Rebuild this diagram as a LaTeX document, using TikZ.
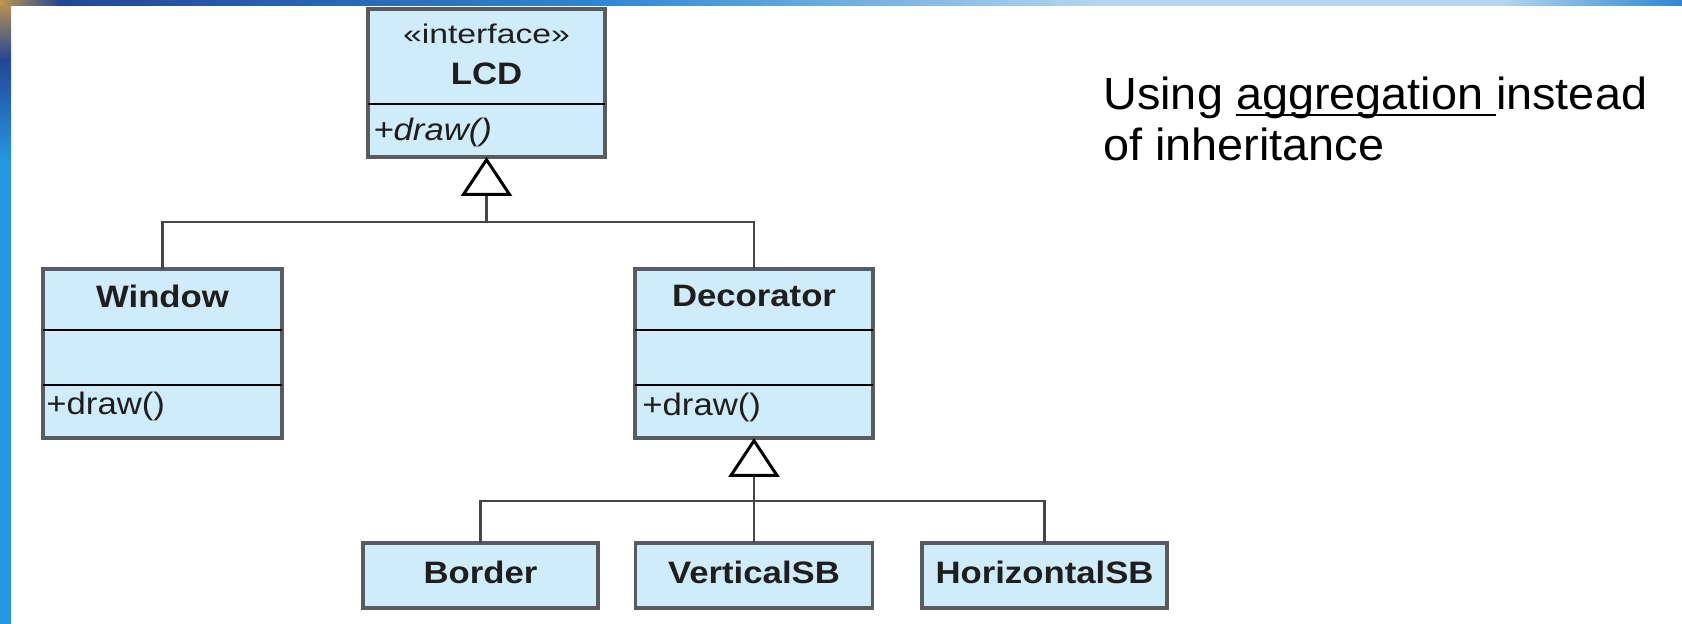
\documentclass[tikz,border=0pt]{standalone}
\usepackage{fontspec}
\setmainfont{Liberation Sans}
\newfontfamily\boxfont[FakeStretch=1.12]{Liberation Sans}
\newfontfamily\stereofont[FakeStretch=1.25]{Liberation Sans}
\newfontfamily\notefont[FakeStretch=1.04]{Liberation Sans}
\usetikzlibrary{arrows.meta}
\definecolor{boxfill}{RGB}{208,236,251}
\definecolor{boxline}{RGB}{88,92,96}
\definecolor{connline}{RGB}{70,70,70}
\definecolor{txt}{RGB}{30,30,30}
\definecolor{bluebright}{RGB}{38,150,226}
\definecolor{bluedark}{RGB}{35,70,150}
\definecolor{bluemid}{RGB}{45,135,212}
\definecolor{bluelight}{RGB}{180,214,238}
\definecolor{goldish}{RGB}{190,150,75}
\newcommand\ulbox[1]{\setbox0\hbox{#1}\rlap{\rule[-3.1pt]{\wd0}{1.25pt}}\box0}
\tikzset{
  umlbox/.style={draw=boxline, line width=1.6pt, fill=boxfill, inner sep=0pt, outer sep=0pt},
  title/.style={font=\boxfont\bfseries\fontsize{15.5}{18}\selectfont, text=txt, inner sep=0pt},
  stereo/.style={font=\stereofont\fontsize{13.5}{16}\selectfont, text=txt, inner sep=0pt},
  op/.style={font=\boxfont\fontsize{15.5}{18}\selectfont, text=txt, inner sep=0pt},
  divider/.style={draw=black, line width=1pt},
  conn/.style={draw=connline, line width=1.4pt},
  inh/.style={conn, -{Triangle[length=19.5pt, width=25.5pt, color=black, fill=white, line width=1.5pt]}},
  note/.style={font=\notefont\fontsize{22.5}{27}\selectfont, text=black, inner sep=0pt}
}
\begin{document}
\begin{tikzpicture}[x=0.5pt, y=-0.5pt]
\useasboundingbox (0,0) rectangle (1682,624);
% background and frame
\fill[white] (0,0) rectangle (1682,624);
\shade[top color=goldish, bottom color=bluedark] (0,0) rectangle (11,60);
\shade[top color=bluedark, bottom color=bluebright] (0,60) rectangle (11,160);
\fill[bluebright] (0,160) rectangle (11,624);
\shade[left color=goldish, right color=bluedark] (0,0) rectangle (60,6);
\shade[left color=bluedark, right color=bluemid] (60,0) rectangle (600,6);
\shade[left color=bluemid, right color=bluelight] (600,0) rectangle (1100,6);
\fill[bluelight] (1100,0) rectangle (1500,6);
\shade[left color=bluelight, right color=bluemid] (1500,0) rectangle (1682,6);

% LCD interface
\node[umlbox, minimum width=118.5pt, minimum height=74pt] (lcd) at (486.5,83) {};
\draw[divider] (lcd.west |- 0,104) -- (lcd.east |- 0,104);
\node[stereo] (lcdst) at (486.5,34) {«interface»};
\node[title] (lcdname) at (486.5,74) {LCD};
\node[op, anchor=base west] (lcdop) at (373,141) {\itshape +draw()};

% Window
\node[umlbox, minimum width=119.5pt, minimum height=84.5pt] (window) at (162.5,353.5) {};
\draw[divider] (window.west |- 0,330) -- (window.east |- 0,330);
\draw[divider] (window.west |- 0,385) -- (window.east |- 0,385);
\node[title] (wname) at (162.5,296) {Window};
\node[op, anchor=base west] (wop) at (46,415) {+draw()};

% Decorator
\node[umlbox, minimum width=119pt, minimum height=84.5pt] (decorator) at (754,353.5) {};
\draw[divider] (decorator.west |- 0,330) -- (decorator.east |- 0,330);
\draw[divider] (decorator.west |- 0,385) -- (decorator.east |- 0,385);
\node[title] (dname) at (754,296) {Decorator};
\node[op, anchor=base west] (dop) at (642,416) {+draw()};

% bottom classes
\node[umlbox, title, text depth=3pt, minimum width=117.5pt, minimum height=32.5pt] (border) at (480.5,575.5) {Border};
\node[umlbox, title, text depth=3pt, minimum width=118.5pt, minimum height=32.5pt] (vsb) at (754,575.5) {VerticalSB};
\node[umlbox, title, text depth=3pt, minimum width=122.5pt, minimum height=32.5pt] (hsb) at (1044.5,575.5) {HorizontalSB};

% inheritance connectors
\coordinate (j1) at (486.5,222);
\draw[conn] (window.north) |- (j1);
\draw[conn] (decorator.north) |- (j1);
\draw[inh] (j1) -- (lcd.south);
\coordinate (j2) at (754,501);
\draw[conn] (border.north) |- (j2);
\draw[conn] (hsb.north) |- (j2);
\draw[conn] (vsb.north) -- (j2);
\draw[inh] (j2) -- (decorator.south);

% note
\node[note, anchor=base west] (note1) at (1103,110) {Using \ulbox{aggregation\ }instead};
\node[note, anchor=base west] (note2) at (1103,161) {of inheritance};
\end{tikzpicture}
\end{document}
